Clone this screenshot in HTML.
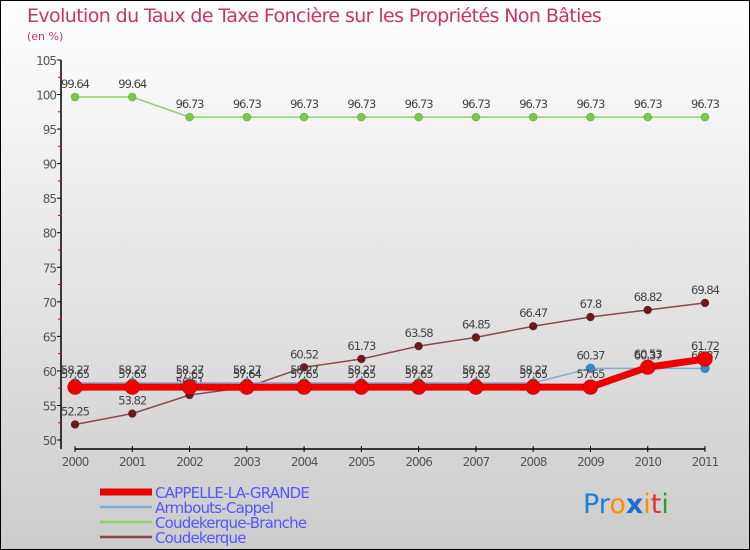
<!DOCTYPE html>
<html><head><meta charset="utf-8"><style>
html,body{margin:0;padding:0}
body{width:750px;height:550px;overflow:hidden}
svg{display:block;font-family:"DejaVu Sans","Liberation Sans",sans-serif}
</style></head><body>
<svg id="chart" width="750" height="550" viewBox="0 0 750 550">
<defs><linearGradient id="bg" x1="0" y1="0" x2="0" y2="1"><stop offset="0" stop-color="#ffffff"/><stop offset="1" stop-color="#cccccc"/></linearGradient></defs>
<rect x="0.5" y="0.5" width="749" height="549" fill="url(#bg)" stroke="#000"/>
<text x="27" y="22" font-size="19" fill="#c8336a" letter-spacing="-0.6">Evolution du Taux de Taxe Foncière sur les Propriétés Non Bâties</text>
<text x="27" y="40" font-size="11" fill="#c8336a">(en %)</text>
<g id="axes"></g>
<g id="series"></g>
<g id="legend"></g>
<g font-size="27" font-family="'DejaVu Sans',sans-serif">
<text x="583" y="513"><tspan fill="#1a7fd4">Pr</tspan><tspan fill="#ff8c00">o</tspan><tspan fill="#1a6fd0" font-weight="bold">x</tspan><tspan fill="#ff8c00">i</tspan><tspan fill="#e03030">t</tspan><tspan fill="#2aa02a">i</tspan></text>
</g>
</svg>
<script>
const years=["2000","2001","2002","2003","2004","2005","2006","2007","2008","2009","2010","2011"];
const yTicks=[50,55,60,65,70,75,80,85,90,95,100,105];
const cappelle=[57.65,57.65,57.65,57.64,57.65,57.65,57.65,57.65,57.65,57.65,60.53,61.72];
const armbouts=[58.27,58.27,58.27,58.27,58.27,58.27,58.27,58.27,58.27,60.37,60.37,60.37];
const coudBranche=[99.64,99.64,96.73,96.73,96.73,96.73,96.73,96.73,96.73,96.73,96.73,96.73];
const coudekerque=[52.25,53.82,56.51,57.64,60.52,61.73,63.58,64.85,66.47,67.8,68.82,69.84];
const seriesNames=["CAPPELLE-LA-GRANDE","Armbouts-Cappel","Coudekerque-Branche","Coudekerque"];

const NS="http://www.w3.org/2000/svg";
const X=i=>75+i*(630/(years.length-1));
const Y=v=>440-(v-50)*(380/55);
function mk(tag,attrs,parent,txt){const e=document.createElementNS(NS,tag);for(const k in attrs)e.setAttribute(k,attrs[k]);if(txt!==undefined)e.textContent=txt;parent.appendChild(e);return e;}
const axes=document.getElementById('axes');
const yaxis=mk('line',{x1:61,y1:Y(105),x2:61,y2:449,stroke:'#000','stroke-width':1.5},axes);


const xaxis=mk('line',{x1:X(0),y1:449,x2:X(years.length-1),y2:449,stroke:'#000','stroke-width':1.5},axes);


yTicks.forEach((t,i)=>{
  mk('line',{x1:57,y1:Y(t),x2:61,y2:Y(t),stroke:'#000'},axes);
  const l=mk('text',{x:56,y:Y(t)+5,'font-size':12,'text-anchor':'end',fill:'#555','letter-spacing':'-1'},axes,String(t));
  
  
  if(i<yTicks.length-1) mk('line',{x1:58,y1:Y(t+2.5),x2:61,y2:Y(t+2.5),stroke:'#e00'},axes);
});
years.forEach((yr,i)=>{
  mk('line',{x1:X(i),y1:446,x2:X(i),y2:452,stroke:'#000'},axes);
  const l=mk('text',{x:X(i),y:466,'font-size':12,'text-anchor':'middle',fill:'#555','letter-spacing':'-1'},axes,yr);
  
  
});
const sg=document.getElementById('series');
const defs=[
 {d:coudBranche,c:'#8fd26a',w:1.5,r:4,dot:'#77cc44',n:'coudekerque-branche'},
 {d:coudekerque,c:'#8a4a4a',w:1.5,r:4,dot:'#6a1a1a',n:'coudekerque'},
 {d:armbouts,c:'#7ab0d8',w:1.5,r:4.5,dot:'#3a88c8',n:'armbouts-cappel'},
 {d:cappelle,c:'#ee0000',w:7,r:7.5,dot:'#ee0000',n:'cappelle-la-grande'}
];
defs.forEach(s=>{
  const g=mk('g',{},sg);
  
  
  const p=mk('polyline',{points:s.d.map((v,i)=>X(i)+','+Y(v)).join(' '),fill:'none',stroke:s.c,'stroke-width':s.w,'stroke-linejoin':'round'},g);
  
  
  s.d.forEach((v,i)=>{
    const c=mk('circle',{cx:X(i),cy:Y(v),r:s.r,fill:s.dot,stroke:'rgba(0,0,0,0.25)','stroke-width':0.6},g);
    
    
    const t=mk('text',{x:X(i),y:Y(v)-9,'font-size':11.5,'text-anchor':'middle',fill:'#444','letter-spacing':'-1'},g,String(v));
    
    
  });
});
const lg=document.getElementById('legend');
const lc=[['#ee0000',7],['#7ab0d8',2.5],['#8fd26a',2.5],['#8a4a4a',2.5]];
seriesNames.forEach((n,i)=>{
  const y=492+i*15;
  const ln=mk('line',{x1:100,y1:y,x2:152,y2:y,stroke:lc[i][0],'stroke-width':lc[i][1]},lg);
  
  
  const t=mk('text',{x:155,y:y+6,'font-size':15,fill:'#5555ff','letter-spacing':'-0.8'},lg,n);
  
  
});
</script>
</body></html>
